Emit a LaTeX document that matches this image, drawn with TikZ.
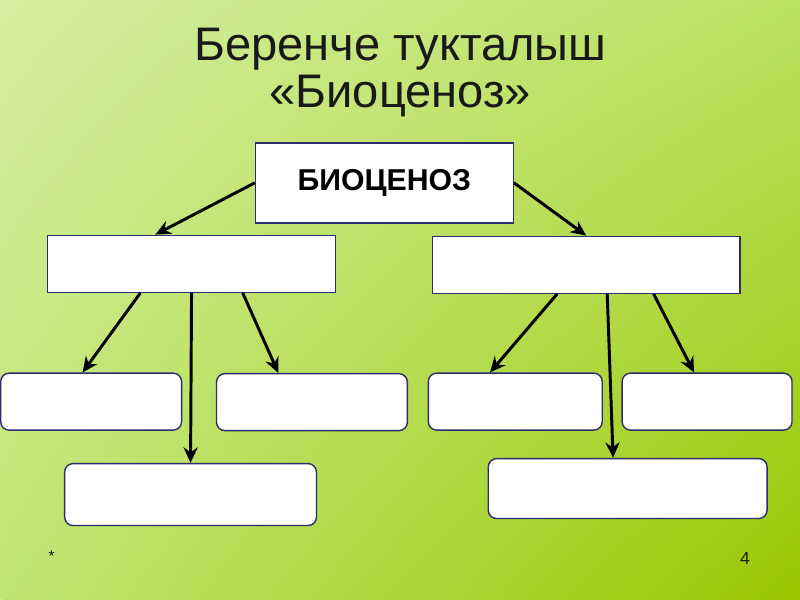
\documentclass[tikz,border=0pt]{standalone}
\usepackage{fontspec}
\setmainfont{Liberation Sans}
\usetikzlibrary{arrows.meta,calc,shadings}
\definecolor{bglight}{RGB}{212,238,160}
\definecolor{bgmidA}{RGB}{186,226,98}
\definecolor{bgmidB}{RGB}{192,230,115}
\definecolor{bgdark}{RGB}{152,199,0}
\definecolor{boxline}{RGB}{45,45,110}
\definecolor{darktext}{RGB}{25,25,25}

\begin{document}
\begin{tikzpicture}[x=0.025cm,y=-0.025cm,
  titletext/.style={font=\fontsize{33.5}{33}\selectfont,text=darktext,anchor=base},
  topbox/.style={draw=boxline,fill=white,line width=1pt,
                 minimum width=6.45cm,minimum height=2.0cm,
                 font=\fontsize{21.5}{24}\selectfont\bfseries,text=black},
  midbox/.style={draw=boxline,fill=white,line width=1pt,
                 minimum height=1.425cm},
  leafbox/.style={draw=boxline,fill=white,line width=1pt,
                  rounded corners=6pt,minimum height=1.425cm},
  arrow/.style={-{Stealth[length=11pt,width=10pt]},line width=2.1pt,color=black}]
% background
\shade[upper left=bglight,upper right=bgmidA,lower left=bgmidB,
       lower right=bgdark] (0,0) rectangle (800,600);
\node[titletext](title1) at (400,61)  {Беренче тукталыш};
\node[titletext](title2) at (400,108) {«Биоценоз»};
\node[topbox](bio)   at (384,183)   {БИОЦЕНОЗ};
\node[midbox,minimum width=7.2cm](left)  at (191,264) {};
\node[midbox,minimum width=7.7cm](right) at (586,265) {};
\node[leafbox,minimum width=4.525cm](l1) at (90.5,402) {};
\node[leafbox,minimum width=4.775cm](l2) at (311.5,402.5) {};
\node[leafbox,minimum width=6.3cm,minimum height=1.55cm](l3) at (190,495) {};
\node[leafbox,minimum width=4.35cm](r1) at (515,402) {};
\node[leafbox,minimum width=4.25cm](r2) at (707,402) {};
\node[leafbox,minimum width=6.975cm,minimum height=1.5cm](r3) at (627.5,489) {};
\node[font=\fontsize{11}{12}\selectfont,text=darktext](star) at (51,557) {*};
\node[font=\fontsize{12.5}{14}\selectfont,text=darktext](page) at (745,559) {4};
\draw[arrow](bio.west)--($(left.north west)!.375!(left.north east)$);
\draw[arrow](bio.east)--(right.north);
\draw[arrow]($(left.south west)!.323!(left.south east)$)--($(l1.north west)!.453!(l1.north east)$);
\draw[arrow](left.south)--(l3.north);
\draw[arrow]($(left.south west)!.677!(left.south east)$)--($(l2.north west)!.325!(l2.north east)$);
\draw[arrow]($(right.south west)!.406!(right.south east)$)--($(r1.north west)!.356!(r1.north east)$);
\draw[arrow]($(right.south west)!.568!(right.south east)$)--($(r3.north west)!.448!(r3.north east)$);
\draw[arrow]($(right.south west)!.718!(right.south east)$)--($(r2.north west)!.424!(r2.north east)$);
\end{tikzpicture}
\end{document}
